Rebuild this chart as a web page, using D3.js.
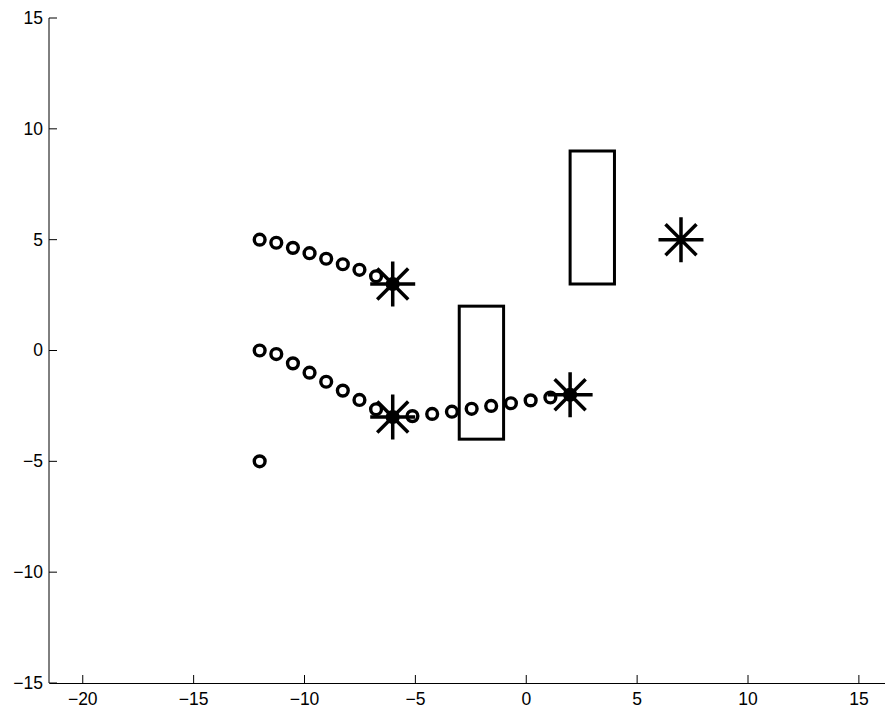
<!DOCTYPE html>
<html>
<head>
<meta charset="utf-8">
<script src="https://cdn.jsdelivr.net/npm/d3@7"></script>
<style>
  html, body { margin: 0; padding: 0; background: #fff; }
  svg { display: block; }
</style>
</head>
<body>
<svg id="chart" width="885" height="713"></svg>
<script>
// ---- data ----
const xTicks = [-20, -15, -10, -5, 0, 5, 10, 15];
const yTicks = [-15, -10, -5, 0, 5, 10, 15];

const upperX = [-12, -11.25, -10.5, -9.75, -9, -8.25, -7.5, -6.75, -6];
const upperY = [5, 4.86, 4.63, 4.39, 4.14, 3.89, 3.64, 3.35, 3];

const lowerX = [-12, -11.25, -10.5, -9.75, -9, -8.25, -7.5, -6.75, -6,
                -5.11, -4.22, -3.33, -2.44, -1.56, -0.67, 0.22, 1.11, 2];
const lowerY = [0, -0.16, -0.58, -1.0, -1.41, -1.81, -2.23, -2.65, -3,
                -2.96, -2.86, -2.76, -2.63, -2.5, -2.38, -2.25, -2.12, -2];

const singleX = [-12];
const singleY = [-5];

const starX = [-6, -6, 2, 7];
const starY = [3, -3, -2, 5];

const rectX0 = [-3, 2];
const rectX1 = [-1, 4];
const rectY0 = [-4, 3];
const rectY1 = [2, 9];

// ---- drawing ----
const svg = d3.select("#chart");
const x = d3.scaleLinear().domain([-21.5, 16.2]).range([49, 885]);
const y = d3.scaleLinear().domain([-15, 15]).range([683, 18]);
const FONT = '"Liberation Sans", Arial, Helvetica, sans-serif';
const fmt = d => d < 0 ? "\u2212" + Math.abs(d) : String(d);

// axes
const xAxis = d3.axisBottom(x).tickValues(xTicks).tickSizeInner(-8).tickSizeOuter(0).tickPadding(10).tickFormat(fmt);
const gx = svg.append("g").attr("transform", "translate(0,683)").call(xAxis)
  .attr("font-family", FONT).attr("font-size", 17.5);
gx.select(".domain").attr("stroke", "#000");
gx.selectAll(".tick line").attr("stroke", "#000");
gx.selectAll(".tick text").attr("fill", "#000");

const yAxis = d3.axisLeft(y).tickValues(yTicks).tickSizeInner(-8).tickSizeOuter(0).tickPadding(6).offset(0).tickFormat(fmt);
const gy = svg.append("g").attr("transform", "translate(49,0)").call(yAxis)
  .attr("font-family", FONT).attr("font-size", 17.5);
gy.select(".domain").attr("stroke", "#000");
gy.selectAll(".tick line").attr("stroke", "#000");
gy.selectAll(".tick text").attr("fill", "#000").attr("dy", "0.34em");

// rectangles
const rects = rectX0.map((d, i) => ({x0: d, x1: rectX1[i], y0: rectY0[i], y1: rectY1[i]}));
svg.append("g").selectAll("rect").data(rects).join("rect")
  .attr("x", d => x(d.x0)).attr("y", d => y(d.y1))
  .attr("width", d => x(d.x1) - x(d.x0)).attr("height", d => y(d.y0) - y(d.y1))
  .attr("fill", "none").attr("stroke", "#000").attr("stroke-width", 3);

// circles
const circ = [];
upperX.forEach((v, i) => circ.push([v, upperY[i]]));
lowerX.forEach((v, i) => circ.push([v, lowerY[i]]));
singleX.forEach((v, i) => circ.push([v, singleY[i]]));
svg.append("g").selectAll("circle").data(circ).join("circle")
  .attr("cx", d => x(d[0])).attr("cy", d => y(d[1])).attr("r", 5.4)
  .attr("fill", "none").attr("stroke", "#000").attr("stroke-width", 3.4);

// stars
const R = 22.5, D = 15.5;
const starPath = `M${-R},0H${R}M0,${-R}V${R}M${-D},${-D}L${D},${D}M${-D},${D}L${D},${-D}`;
svg.append("g").selectAll("path").data(starX.map((v, i) => [v, starY[i]])).join("path")
  .attr("transform", d => `translate(${x(d[0])},${y(d[1])})`)
  .attr("d", starPath).attr("fill", "none").attr("stroke", "#000").attr("stroke-width", 3.5);
</script>
</body>
</html>
